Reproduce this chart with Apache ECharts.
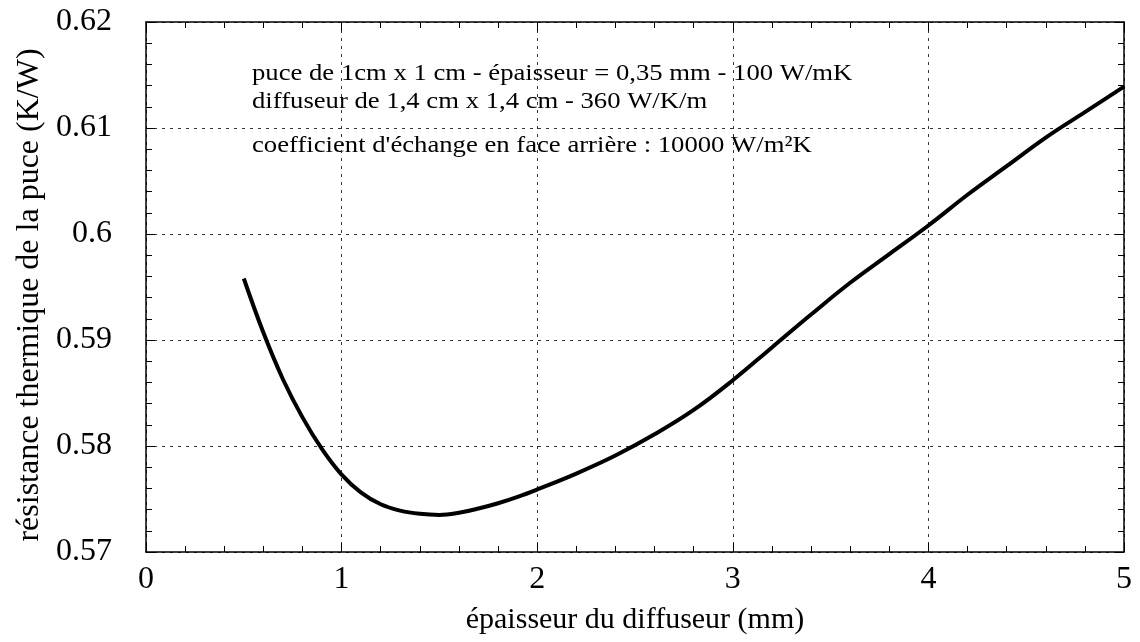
<!DOCTYPE html>
<html><head><meta charset="utf-8">
<script src="https://cdn.jsdelivr.net/npm/echarts@6/dist/echarts.min.js"></script>
<style>html,body{margin:0;padding:0;background:#fff}#c{width:1140px;height:642px}</style>
</head><body><div id="c"></div>
<script>
const thickness = [0.5,0.6,0.7,0.8,0.9,1.0,1.1,1.2,1.3,1.4,1.5,1.6,1.7,1.8,1.9,2.0,2.2,2.4,2.6,2.8,3.0,3.2,3.4,3.6,3.8,4.0,4.2,4.4,4.6,4.8,5.0];
const resistance = [0.5958,0.5907,0.5863,0.5827,0.5797,0.5773,0.5756,0.5745,0.5739,0.5736,0.5735,0.5737,0.5741,0.5746,0.5752,0.5759,0.5774,0.5791,0.5811,0.5834,0.5862,0.5893,0.5924,0.5954,0.5981,0.6008,0.6037,0.6064,0.6091,0.6115,0.6139];
const xTitle = "épaisseur du diffuseur (mm)";
const yTitle = "résistance thermique de la puce (K/W)";
const notes = ["puce de 1cm x 1 cm - épaisseur = 0,35 mm - 100 W/mK",
               "diffuseur de 1,4 cm x 1,4 cm - 360 W/K/m",
               "coefficient d'échange en face arrière : 10000 W/m²K"];

const font = "Liberation Serif";
const chart = echarts.init(document.getElementById('c'));
const grid = {left:146,right:16,top:22,bottom:90};
const gridLine = {show:true,lineStyle:{color:'#333',width:1,type:[3,5]}};
const tickStyle = {color:'#000',width:1};
const noteStyle = t => ({text:t,fontFamily:font,fontSize:23,fill:'#000',verticalAlign:'middle'});
chart.setOption({
  animation:false,
  grid: grid,
  xAxis:[{
    type:'value',min:0,max:5,interval:1,
    name:xTitle,nameLocation:'middle',nameGap:53,
    nameTextStyle:{fontFamily:font,fontSize:30,color:'#000'},
    axisLine:{onZero:false,lineStyle:{color:'#000',width:1.5}},
    axisTick:{inside:true,length:9,lineStyle:tickStyle},
    minorTick:{show:true,splitNumber:5,length:6,lineStyle:tickStyle},
    axisLabel:{fontFamily:font,fontSize:32,color:'#000',margin:12},
    splitLine:gridLine
  },{
    type:'value',min:0,max:5,interval:1,position:'top',
    axisLine:{onZero:false,lineStyle:{color:'#000',width:1.5}},
    axisTick:{inside:true,length:9,lineStyle:tickStyle},
    minorTick:{show:true,splitNumber:5,length:6,lineStyle:tickStyle},
    axisLabel:{show:false},splitLine:{show:false}
  }],
  yAxis:[{
    type:'value',min:0.57,max:0.62,interval:0.01,
    name:yTitle,nameLocation:'middle',nameGap:92,
    nameTextStyle:{fontFamily:font,fontSize:32,color:'#000',padding:[0,16,0,0]},
    axisLine:{show:true,onZero:false,lineStyle:{color:'#000',width:1.5}},
    axisTick:{show:true,inside:true,length:9,lineStyle:tickStyle},
    minorTick:{show:true,splitNumber:5,length:6,lineStyle:tickStyle},
    axisLabel:{fontFamily:font,fontSize:32,color:'#000',margin:34,formatter:v=>String(+v.toFixed(2))},
    splitLine:gridLine
  },{
    type:'value',min:0.57,max:0.62,interval:0.01,position:'right',
    axisLine:{show:true,onZero:false,lineStyle:{color:'#000',width:1.5}},
    axisTick:{show:true,inside:true,length:9,lineStyle:tickStyle},
    minorTick:{show:true,splitNumber:5,length:6,lineStyle:tickStyle},
    axisLabel:{show:false},splitLine:{show:false}
  }],
  series:[{
    type:'line',smooth:0.4,symbol:'none',
    data:thickness.map((x,i)=>[x,resistance[i]]),
    lineStyle:{color:'#000',width:4}
  }],
  graphic:[
    {type:'text',x:252,y:74,scaleX:1.16,style:noteStyle(notes[0])},
    {type:'text',x:252,y:102,scaleX:1.16,style:noteStyle(notes[1])},
    {type:'text',x:252,y:146,scaleX:1.16,style:noteStyle(notes[2])}
  ]
});
</script></body></html>
